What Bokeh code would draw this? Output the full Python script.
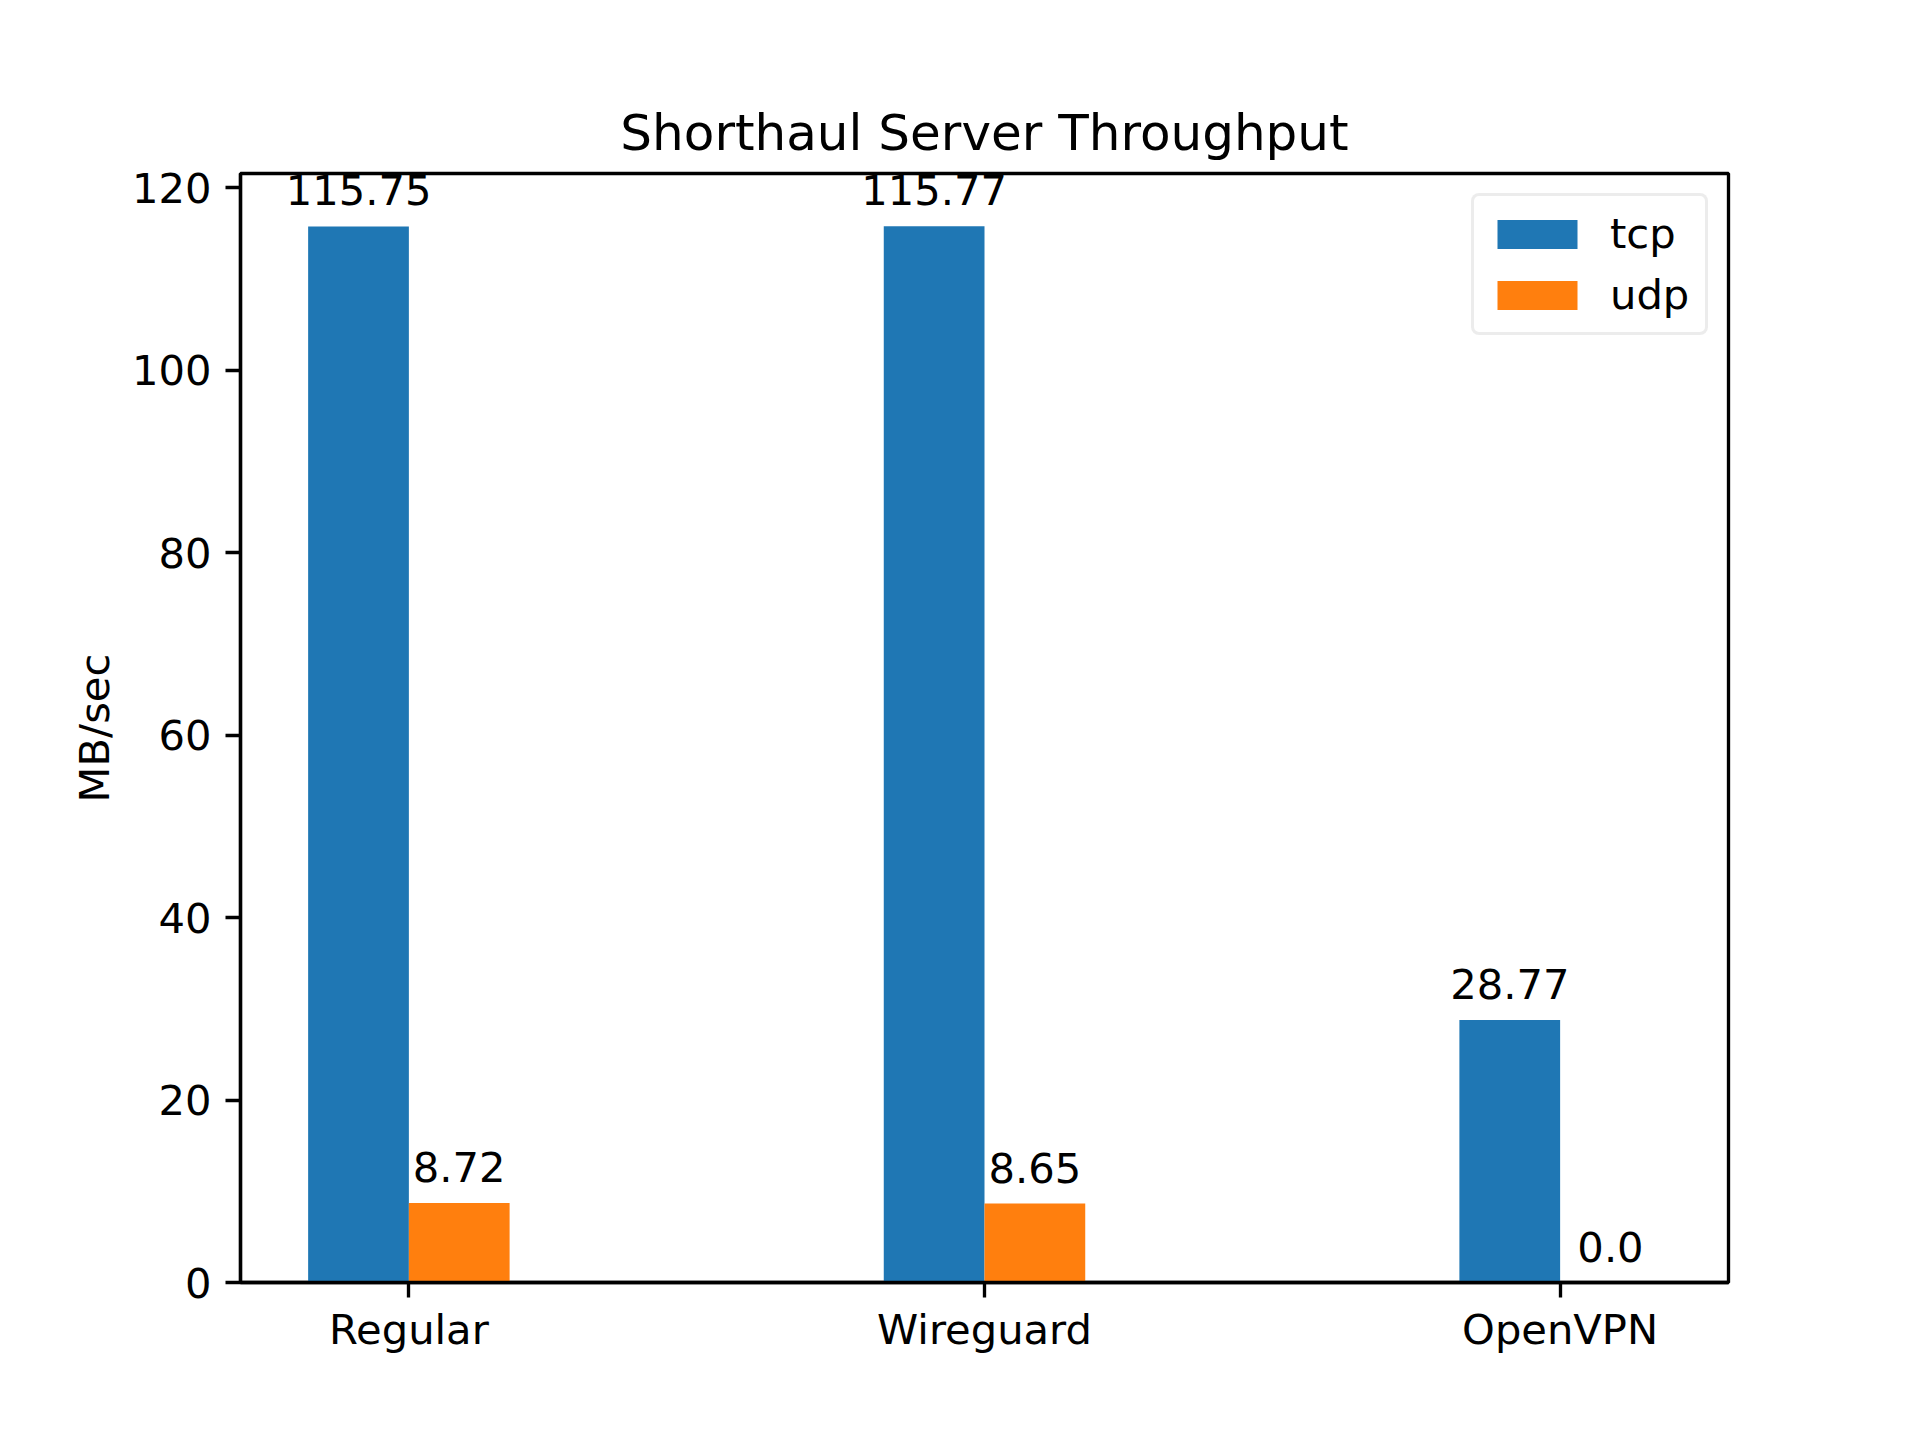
from bokeh.plotting import figure
from bokeh.models import Range1d, FixedTicker, ColumnDataSource, Legend, LegendItem
from bokeh.core.properties import value
from bokeh.embed import file_html
from bokeh.resources import INLINE

categories = ["Regular", "Wireguard", "OpenVPN"]
tcp = [115.75, 115.77, 28.77]
udp = [8.72, 8.65, 0.0]
series_names = ["tcp", "udp"]
colors = ["#1f77b4", "#ff7f0e"]
y_ticks = [0, 20, 40, 60, 80, 100, 120]

FONT = "DejaVu Sans"
FS = "41.67px"
LW = 3.33
bar_w = 0.175

idx = list(range(len(categories)))
ymax = max(tcp + udp) * 1.05
pad = (len(categories) - 1 + 2 * bar_w) * 0.05

p = figure(frame_width=1488, frame_height=1109,
           x_range=Range1d(-bar_w - pad, len(categories) - 1 + bar_w + pad),
           y_range=Range1d(0, ymax),
           output_backend="svg", toolbar_location=None,
           min_border_left=240, min_border_right=192,
           min_border_top=173, min_border_bottom=158,
           background_fill_color="white", border_fill_color="white")

p.title.text = "Shorthaul Server Throughput"
p.title.text_font = FONT
p.title.text_font_size = "50px"
p.title.text_font_style = "normal"
p.title.text_color = "black"
p.title.align = "center"
p.title.standoff = 23

src_t = ColumnDataSource(dict(x=[i - bar_w / 2 for i in idx], top=tcp, lab=[str(v) for v in tcp]))
src_u = ColumnDataSource(dict(x=[i + bar_w / 2 for i in idx], top=udp, lab=[str(v) for v in udp]))

r_t = p.vbar(x="x", top="top", width=bar_w, bottom=0, source=src_t, fill_color=colors[0], line_color=None)
r_u = p.vbar(x="x", top="top", width=bar_w, bottom=0, source=src_u, fill_color=colors[1], line_color=None)

for src in (src_t, src_u):
    p.text(x="x", y="top", text="lab", source=src, text_align="center", text_baseline="bottom",
           y_offset=-21, text_font=value(FONT), text_font_size=FS, text_color="black")

p.xgrid.visible = False
p.ygrid.visible = False
p.outline_line_color = "black"
p.outline_line_width = LW

p.xaxis.ticker = FixedTicker(ticks=idx)
p.xaxis.major_label_overrides = {i: c for i, c in zip(idx, categories)}
p.yaxis.ticker = FixedTicker(ticks=y_ticks)
p.yaxis.axis_label = "MB/sec"

for ax in (p.xaxis[0], p.yaxis[0]):
    ax.axis_line_width = LW
    ax.axis_line_color = "black"
    ax.major_tick_line_width = LW
    ax.major_tick_out = 15
    ax.major_tick_in = 0
    ax.minor_tick_out = 0
    ax.minor_tick_in = 0
    ax.major_label_text_font = FONT
    ax.major_label_text_font_size = FS
    ax.major_label_text_color = "black"
    ax.major_label_standoff = 14
    ax.axis_label_text_font = FONT
    ax.axis_label_text_font_size = FS
    ax.axis_label_text_font_style = "normal"
    ax.axis_label_text_color = "black"
    ax.axis_label_standoff = 10
p.xaxis[0].major_label_standoff = 7

legend = Legend(items=[LegendItem(label=series_names[0], renderers=[r_t]),
                       LegendItem(label=series_names[1], renderers=[r_u])],
                location="top_right")
legend.margin = 20
legend.padding = 13
legend.spacing = 12
legend.glyph_width = 100
legend.glyph_height = 36
legend.label_standoff = 23
legend.label_width = 82
legend.label_text_font = FONT
legend.label_text_font_size = FS
legend.label_text_color = "black"
legend.border_line_color = "#d9d9d9"
legend.border_line_width = 3.3
legend.border_radius = 8
legend.background_fill_alpha = 0.8
p.add_layout(legend, "center")

open("out.html", "w").write(file_html(p, INLINE))
